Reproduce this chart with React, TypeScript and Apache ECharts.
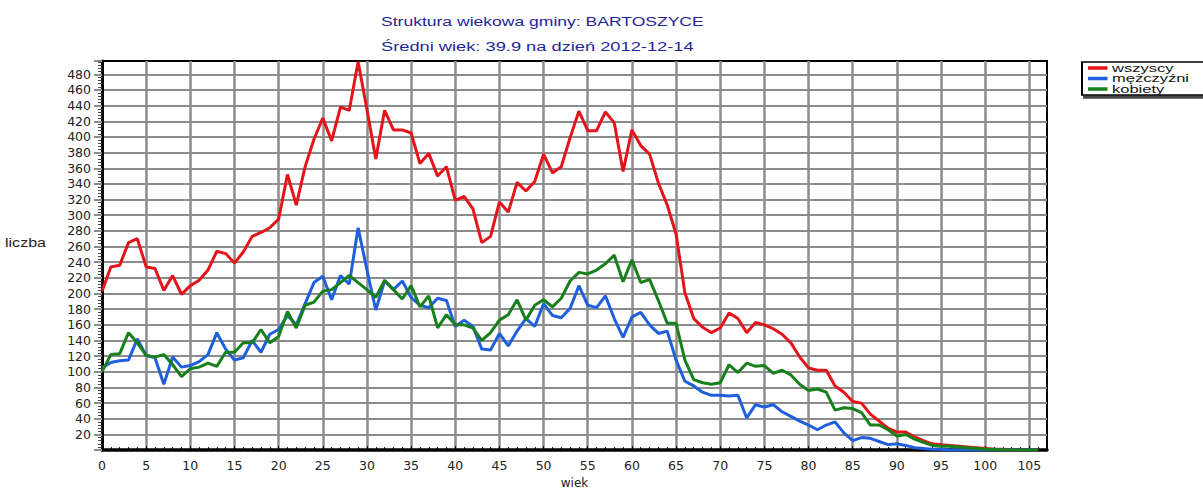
import React, { useEffect, useRef } from "react";
import * as echarts from "echarts";

const TITLE = "Struktura wiekowa gminy: BARTOSZYCE";
const SUBTITLE = "Średni wiek: 39.9 na dzień 2012-12-14";
const Y_NAME = "liczba";
const X_NAME = "wiek";
const SERIES_NAMES = ["wszyscy", "mężczyźni", "kobiety"];
const SERIES_COLORS = ["#e4141b", "#1f5fdc", "#18801a"];

// values per age 0..106
const wszyscy = [
  203, 234, 236, 265, 270, 234, 232, 204, 223, 199,
  210, 217, 230, 254, 251, 239, 253, 273, 278, 284,
  295, 352, 313, 362, 397, 424, 395, 438, 434, 496,
  435, 372, 434, 409, 409, 405, 366, 379, 350, 362,
  319, 324, 308, 265, 273, 317, 304, 342, 331, 343,
  378, 354, 362, 399, 433, 408, 408, 432, 418, 356,
  409, 389, 378, 341, 313, 276, 201, 168, 157, 150,
  156, 175, 168, 150, 163, 160, 155, 148, 137, 119,
  105, 102, 102, 82, 74, 62, 60, 46, 37, 28,
  23, 23, 17, 12, 8, 7, 6, 5, 4, 3,
  2, 1, 1, 0, 0, 0, 0,
];
const mezczyzni = [
  105, 112, 114, 115, 142, 121, 118, 84, 119, 106,
  108, 113, 122, 150, 129, 115, 118, 140, 125, 148,
  154, 172, 160, 187, 214, 222, 192, 223, 212, 284,
  230, 179, 216, 205, 216, 195, 185, 182, 194, 191,
  158, 166, 158, 129, 128, 149, 133, 152, 168, 158,
  187, 172, 169, 181, 210, 185, 182, 197, 168, 144,
  170, 176, 160, 149, 152, 115, 88, 82, 74, 70,
  70, 69, 70, 41, 58, 55, 58, 49, 43, 37,
  32, 26, 32, 36, 22, 12, 16, 15, 11, 7,
  8, 6, 3, 2, 1, 1, 0, 0, 0, 0,
  0, 0, 0, 0, 0, 0, 0,
];
const kobiety = [
  100, 122, 123, 150, 137, 121, 119, 122, 109, 94,
  104, 106, 111, 107, 125, 125, 137, 137, 154, 137,
  145, 177, 156, 185, 189, 203, 205, 214, 223, 214,
  205, 195, 217, 205, 193, 210, 183, 197, 156, 173,
  160, 160, 156, 140, 150, 166, 173, 192, 166, 185,
  192, 183, 194, 216, 227, 225, 230, 238, 249, 215,
  243, 214, 218, 191, 162, 162, 115, 90, 86, 84,
  86, 109, 99, 111, 107, 108, 98, 102, 96, 84,
  76, 78, 74, 51, 54, 53, 48, 32, 32, 26,
  18, 20, 14, 10, 6, 5, 5, 4, 3, 2,
  1, 1, 0, 0, 0, 0, 0,
];
const SERIES_VALUES = [wszyscy, mezczyzni, kobiety];

const X_MIN = 0;
const X_MAX = 107;
const X_STEP = 5;
const Y_MIN = 0;
const Y_MAX = 497;
const Y_STEP = 20;

function measure(text: string, size: number, family: string): number {
  const c = document.createElement("canvas").getContext("2d");
  if (!c) return text.length * size * 0.55;
  c.font = `${size}px ${family}`;
  return c.measureText(text).width;
}

export default function App() {
  const ref = useRef<HTMLDivElement>(null);

  useEffect(() => {
    if (!ref.current) return;
    const chart = echarts.init(ref.current, null, { renderer: "svg" });
    const fam = '"Liberation Sans", Arial, sans-serif';
    const titleColor = "#25259a";
    const sx1 = 323 / measure(TITLE, 12.5, fam);
    const sx2 = 313 / measure(SUBTITLE, 12.5, fam);
    const sxY = 41 / measure(Y_NAME, 12, fam);
    const legendScale = 1.5;

    const legendChildren: any[] = [
      {
        type: "rect",
        shape: { x: 0, y: 0, width: 90, height: 33 },
        style: {
          fill: "#fff",
          stroke: "#000",
          lineWidth: 1.3,
          shadowColor: "#444",
          shadowOffsetX: 2,
          shadowOffsetY: 3,
          shadowBlur: 0,
        },
      },
    ];
    SERIES_NAMES.forEach((n, i) => {
      const cy = 6 + i * 10.5;
      legendChildren.push({
        type: "line",
        shape: { x1: 4, y1: cy, x2: 17, y2: cy },
        style: { stroke: SERIES_COLORS[i], lineWidth: 3.5 },
      });
      legendChildren.push({
        type: "text",
        x: 20,
        y: cy,
        style: {
          text: n,
          fontSize: 11,
          fontFamily: fam,
          fill: "#111",
          verticalAlign: "middle",
        },
      });
    });

    const axisFont = { fontSize: 12.5, fontFamily: '"DejaVu Sans", sans-serif', color: "#222" };

    chart.setOption({
      animation: false,
      backgroundColor: "#fff",
      grid: {
        left: 102,
        right: 156,
        top: 61,
        bottom: 32,
        show: true,
        borderColor: "#000",
        borderWidth: 2,
        backgroundColor: "#fff",
        containLabel: false,
      },
      graphic: [
        {
          type: "text",
          x: 381,
          y: 14.5,
          scaleX: sx1,
          style: { text: TITLE, fontSize: 12.5, fontFamily: fam, fill: titleColor, verticalAlign: "top" },
        },
        {
          type: "text",
          x: 381,
          y: 40,
          scaleX: sx2,
          style: { text: SUBTITLE, fontSize: 12.5, fontFamily: fam, fill: titleColor, verticalAlign: "top" },
        },
        {
          type: "text",
          x: 5,
          y: 243,
          scaleX: sxY,
          style: { text: Y_NAME, fontSize: 12, fontFamily: fam, fill: "#222", verticalAlign: "middle" },
        },
        {
          type: "group",
          x: 1082,
          y: 62,
          scaleX: legendScale,
          children: legendChildren,
        },
      ],
      xAxis: {
        type: "value",
        min: X_MIN,
        max: X_MAX,
        interval: X_STEP,
        name: X_NAME,
        nameLocation: "middle",
        nameGap: 19,
        nameTextStyle: { ...axisFont, fontSize: 12 },
        axisLine: { show: true, onZero: false, lineStyle: { color: "#000", width: 3.5 } },
        axisTick: { show: true, inside: true, length: 4, lineStyle: { color: "#000", width: 1 } },
        minorTick: { show: true, splitNumber: 5, length: 3, lineStyle: { color: "#000", width: 1 } },
        axisLabel: {
          ...axisFont,
          margin: 9,
          formatter: (v: number) => (v % X_STEP === 0 ? String(v) : ""),
        },
        splitLine: {
          show: true,
          showMinLine: false,
          showMaxLine: false,
          lineStyle: { color: "#8c8c8c", width: 2.5 },
        },
      },
      yAxis: {
        type: "value",
        min: Y_MIN,
        max: Y_MAX,
        interval: Y_STEP,
        axisLine: { show: true, onZero: false, lineStyle: { color: "#000", width: 3 } },
        axisTick: { show: true, inside: false, length: 8, lineStyle: { color: "#8c8c8c", width: 2 } },
        minorTick: { show: true, splitNumber: 5, length: 4, lineStyle: { color: "#444", width: 1 } },
        axisLabel: {
          ...axisFont,
          margin: 11,
          formatter: (v: number) => (v > 0 && v % Y_STEP === 0 ? String(v) : ""),
        },
        splitLine: {
          show: true,
          showMinLine: false,
          showMaxLine: false,
          lineStyle: { color: "#8c8c8c", width: 2 },
        },
      },
      series: SERIES_NAMES.map((n, i) => ({
        name: n,
        type: "line",
        symbol: "none",
        showSymbol: false,
        lineStyle: { color: SERIES_COLORS[i], width: 3 },
        itemStyle: { color: SERIES_COLORS[i] },
        data: SERIES_VALUES[i].map((v, age) => [age, v]),
        z: 3 + i,
      })),
    });

    return () => chart.dispose();
  }, []);

  return (
    <div
      ref={ref}
      style={{ position: "fixed", left: 0, top: 0, width: 1203, height: 494, background: "#fff" }}
    />
  );
}
